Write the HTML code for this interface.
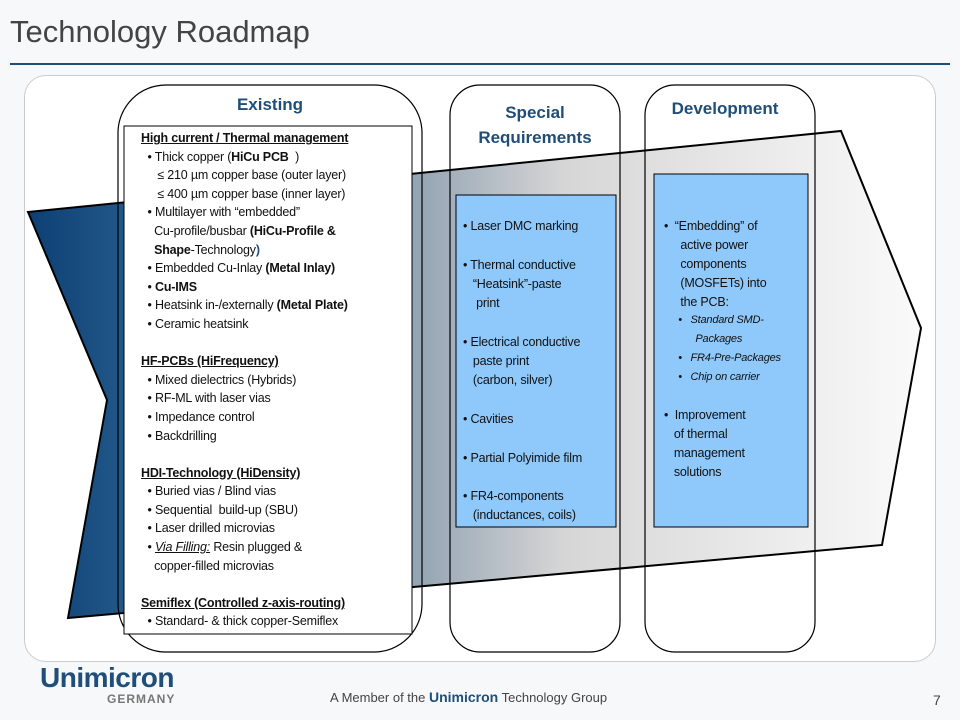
<!DOCTYPE html>
<html><head><meta charset="utf-8"><style>
body{margin:0;width:960px;height:720px;position:relative;background:#f7f8f9;font-family:"Liberation Sans",sans-serif;overflow:hidden}
.a{position:absolute}
.t{position:absolute;font-size:12.5px;line-height:18.6px;color:#111;white-space:nowrap;letter-spacing:-0.2px}
.h{font-weight:bold;text-decoration:underline}
.ct{position:absolute;font-weight:bold;color:#1f4e79;font-size:17px;text-align:center}
</style></head><body>
<div class="a" style="left:10px;top:14px;font-size:31px;color:#444">Technology Roadmap</div>
<div class="a" style="left:10px;top:63px;width:940px;height:2px;background:#1f4e79"></div>
<div class="a" style="left:24px;top:75px;width:910px;height:585px;background:#fff;border:1px solid #ccc;border-radius:22px"></div>
<svg class="a" style="left:0;top:0" width="960" height="720">
<defs><linearGradient id="g" x1="0" x2="1" y1="0" y2="0">
<stop offset="0" stop-color="#0d3f73"/><stop offset="0.12" stop-color="#245a8c"/><stop offset="0.45" stop-color="#9aa8b6"/><stop offset="0.6" stop-color="#d6d6d6"/><stop offset="1" stop-color="#fafafa"/></linearGradient></defs>
<polygon points="28,212 841,131 921,328 882,545 68,618 107,400" fill="url(#g)" stroke="#000" stroke-width="2"/>
<rect x="118" y="85" width="304" height="567" rx="48" fill="none" stroke="#000" stroke-width="1.2"/>
<rect x="450" y="85" width="170" height="567" rx="30" fill="none" stroke="#000" stroke-width="1.2"/>
<rect x="645" y="85" width="170" height="567" rx="30" fill="none" stroke="#000" stroke-width="1.2"/>
<rect x="124" y="126" width="288" height="508" fill="#fff" stroke="#000" stroke-width="1"/>
<rect x="456" y="195" width="160" height="332" fill="#8fc9fb" stroke="#000" stroke-width="1"/>
<rect x="654" y="174" width="154" height="353" fill="#8fc9fb" stroke="#000" stroke-width="1"/>
</svg>
<div class="ct" style="left:118px;width:304px;top:95px">Existing</div>
<div class="ct" style="left:450px;width:170px;top:100px;line-height:25px">Special<br>Requirements</div>
<div class="ct" style="left:645px;width:160px;top:99px">Development</div>

<div class="t" style="left:141px;top:129px">
<span class="h">High current / Thermal management</span><br>
&nbsp;&nbsp;• Thick copper (<b>HiCu PCB</b> &nbsp;)<br>
&nbsp;&nbsp;&nbsp;&nbsp;&nbsp;≤ 210 µm copper base (outer layer)<br>
&nbsp;&nbsp;&nbsp;&nbsp;&nbsp;≤ 400 µm copper base (inner layer)<br>
&nbsp;&nbsp;• Multilayer with “embedded”<br>
&nbsp;&nbsp;&nbsp;&nbsp;Cu-profile/busbar <b>(HiCu-Profile &amp;</b><br>
&nbsp;&nbsp;&nbsp;&nbsp;<b>Shape</b>-Technology<b style="color:#1f4e79">)</b><br>
&nbsp;&nbsp;• Embedded Cu-Inlay <b>(Metal Inlay)</b><br>
&nbsp;&nbsp;• <b>Cu-IMS</b><br>
&nbsp;&nbsp;• Heatsink in-/externally <b>(Metal Plate)</b><br>
&nbsp;&nbsp;• Ceramic heatsink<br><br>
<span class="h">HF-PCBs (HiFrequency)</span><br>
&nbsp;&nbsp;• Mixed dielectrics (Hybrids)<br>
&nbsp;&nbsp;• RF-ML with laser vias<br>
&nbsp;&nbsp;• Impedance control<br>
&nbsp;&nbsp;• Backdrilling<br><br>
<span class="h">HDI-Technology (HiDensity)</span><br>
&nbsp;&nbsp;• Buried vias / Blind vias<br>
&nbsp;&nbsp;• Sequential &nbsp;build-up (SBU)<br>
&nbsp;&nbsp;• Laser drilled microvias<br>
&nbsp;&nbsp;• <i><u>Via Filling:</u></i> Resin plugged &amp;<br>
&nbsp;&nbsp;&nbsp;&nbsp;copper-filled microvias<br><br>
<span class="h">Semiflex (Controlled z-axis-routing)</span><br>
&nbsp;&nbsp;• Standard- &amp; thick copper-Semiflex
</div>

<div class="t" style="left:463px;top:217px;line-height:19.3px">
• Laser DMC marking<br><br>
• Thermal conductive<br>
&nbsp;&nbsp;&nbsp;“Heatsink”-paste<br>
&nbsp;&nbsp;&nbsp;&nbsp;print<br><br>
• Electrical conductive<br>
&nbsp;&nbsp;&nbsp;paste print<br>
&nbsp;&nbsp;&nbsp;(carbon, silver)<br><br>
• Cavities<br><br>
• Partial Polyimide film<br><br>
• FR4-components<br>
&nbsp;&nbsp;&nbsp;(inductances, coils)
</div>

<div class="t" style="left:664px;top:217px;line-height:19px">
•&nbsp;&nbsp;“Embedding” of<br>
&nbsp;&nbsp;&nbsp;&nbsp;&nbsp;active power<br>
&nbsp;&nbsp;&nbsp;&nbsp;&nbsp;components<br>
&nbsp;&nbsp;&nbsp;&nbsp;&nbsp;(MOSFETs) into<br>
&nbsp;&nbsp;&nbsp;&nbsp;&nbsp;the PCB:<br>
<div style="font-size:11px;font-style:italic;line-height:19px;margin-top:-1px">
&nbsp;&nbsp;&nbsp;&nbsp;&nbsp;•&nbsp;&nbsp;&nbsp;Standard SMD-<br>
&nbsp;&nbsp;&nbsp;&nbsp;&nbsp;&nbsp;&nbsp;&nbsp;&nbsp;&nbsp;&nbsp;Packages<br>
&nbsp;&nbsp;&nbsp;&nbsp;&nbsp;•&nbsp;&nbsp;&nbsp;FR4-Pre-Packages<br>
&nbsp;&nbsp;&nbsp;&nbsp;&nbsp;•&nbsp;&nbsp;&nbsp;Chip on carrier</div><br>
•&nbsp;&nbsp;Improvement<br>
&nbsp;&nbsp;&nbsp;of thermal<br>
&nbsp;&nbsp;&nbsp;management<br>
&nbsp;&nbsp;&nbsp;solutions
</div>

<div class="a" style="left:40px;top:662px;font-size:28px;font-weight:bold;color:#1f4e79;letter-spacing:-0.5px">Unimicron</div>
<div class="a" style="left:107px;top:692px;font-size:12px;font-weight:bold;color:#777;letter-spacing:1px">GERMANY</div>
<div class="a" style="left:330px;top:689px;font-size:13px;color:#444">A Member of the <b style="color:#1f4e79;font-size:14px">Unimicron</b> Technology Group</div>
<div class="a" style="left:933px;top:692px;font-size:14px;color:#444">7</div>
</body></html>
